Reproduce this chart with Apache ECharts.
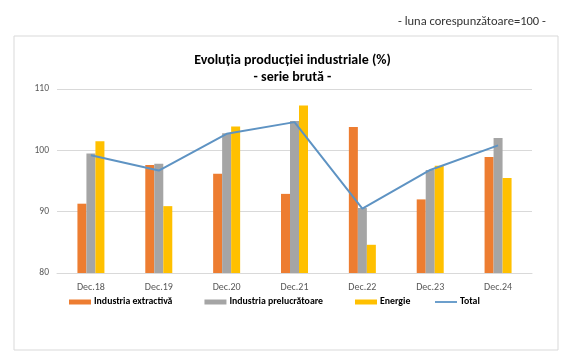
<!DOCTYPE html>
<html><head><meta charset="utf-8">
<script src="https://cdn.jsdelivr.net/npm/echarts@6/dist/echarts.min.js"></script>
<style>html,body{margin:0;padding:0;background:#fff}#c{width:585px;height:355px}</style>
</head><body><div id="c"></div>
<script>
const categories = ['Dec.18','Dec.19','Dec.20','Dec.21','Dec.22','Dec.23','Dec.24'];
const extractiva = [91.3, 97.6, 96.2, 92.9, 103.8, 92.0, 98.9];
const prelucratoare = [99.5, 97.8, 102.8, 104.8, 90.6, 96.8, 102.0];
const energie = [101.5, 90.9, 103.9, 107.3, 84.6, 97.5, 95.5];
const total = [99.2, 96.7, 102.7, 104.6, 90.5, 96.8, 100.8];
const yTicks = [80, 90, 100, 110];

const chart = echarts.init(document.getElementById('c'), null, {renderer:'canvas'});
const font = "Carlito, 'Liberation Sans', sans-serif";
chart.setOption({
  animation:false,
  backgroundColor:'#fff',
  graphic:[
    {type:'rect', shape:{x:14,y:36,width:544,height:314}, style:{fill:'#fff', stroke:'#d9d9d9', lineWidth:1}, z:-10},
    {type:'text', left:398, top:15, style:{text:'- luna corespunzătoare=100 -', font:"12.5px "+font, fill:'#333'}}
  ],
  title:{
    text:'Evoluția producției industriale (%)\n- serie brută -',
    left:'center', top:52, padding:0,
    textStyle:{fontFamily:font, fontSize:14, fontWeight:'bold', color:'#000', lineHeight:17}
  },
  legend:[{
    left:69, top:297, padding:0, itemWidth:22, itemHeight:5, itemGap:32, icon:'rect',
    textStyle:{fontFamily:font, fontSize:9.8, fontWeight:'bold', color:'#000', padding:[0,0,0,-2]},
    data:['Industria extractivă','Industria prelucrătoare','Energie']
  },{
    left:435, top:297, padding:0, itemWidth:22, itemHeight:2, icon:'rect',
    textStyle:{fontFamily:font, fontSize:9.8, fontWeight:'bold', color:'#000', padding:[0,0,0,-2]},
    data:['Total']
  }],
  grid:{left:57, right:53, top:89, bottom:82},
  xAxis:{
    type:'category', data:categories,
    axisLine:{lineStyle:{color:'#d9d9d9'}}, axisTick:{show:false},
    axisLabel:{color:'#595959', fontFamily:font, fontSize:10, margin:9}
  },
  yAxis:{
    type:'value', min:yTicks[0], max:yTicks[yTicks.length-1], interval:10,
    axisLine:{show:false}, axisTick:{show:false},
    splitLine:{lineStyle:{color:'#d9d9d9'}},
    axisLabel:{color:'#595959', fontFamily:font, fontSize:9.5, margin:8}
  },
  series:[
    {name:'Industria extractivă', type:'bar', data:extractiva, barWidth:9, barGap:'0%', itemStyle:{color:'#ED7D31'}},
    {name:'Industria prelucrătoare', type:'bar', data:prelucratoare, barWidth:9, barGap:'0%', itemStyle:{color:'#A5A5A5'}},
    {name:'Energie', type:'bar', data:energie, barWidth:9, barGap:'0%', itemStyle:{color:'#FFC000'}},
    {name:'Total', type:'line', data:total, symbol:'none', lineStyle:{color:'#5E93C3', width:2}, itemStyle:{color:'#6C9FCC'}, z:5}
  ]
});
</script></body></html>
